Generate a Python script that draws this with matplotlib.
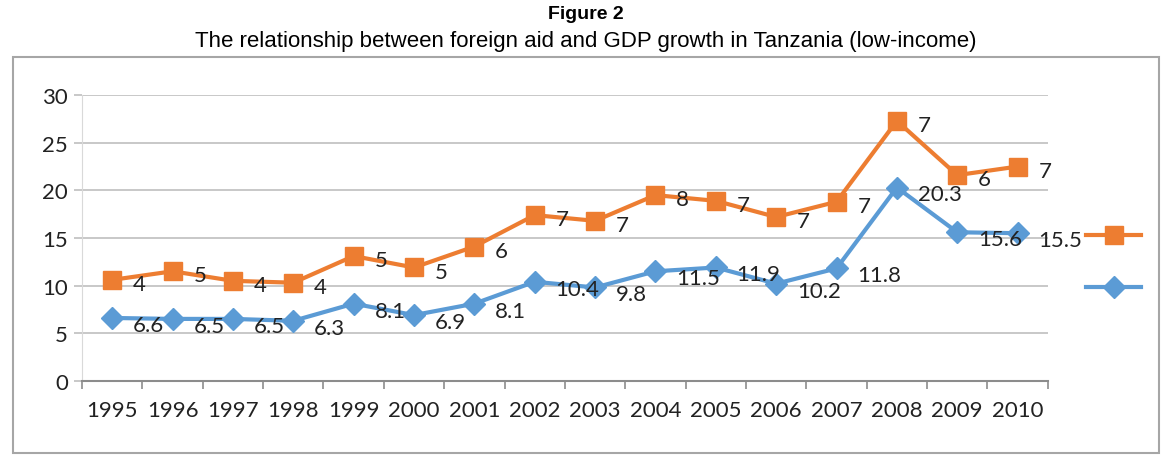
import matplotlib.pyplot as plt
from matplotlib.lines import Line2D
from matplotlib.patches import Rectangle

# Data (stacked line chart: orange line sits on top of the blue one)
years = ['1995', '1996', '1997', '1998', '1999', '2000', '2001', '2002',
         '2003', '2004', '2005', '2006', '2007', '2008', '2009', '2010']
gdp_growth = [6.6, 6.5, 6.5, 6.3, 8.1, 6.9, 8.1, 10.4, 9.8, 11.5, 11.9, 10.2, 11.8, 20.3, 15.6, 15.5]
foreign_aid = [4, 5, 4, 4, 5, 5, 6, 7, 7, 8, 7, 7, 7, 7, 6, 7]

blue = '#5B9BD5'
orange = '#ED7D31'
grid_grey = '#BFBFBF'
font = 'Lato'

stacked = [g + a for g, a in zip(gdp_growth, foreign_aid)]
x = list(range(len(years)))

fig = plt.figure(figsize=(11.72, 4.6), dpi=100)
ax = fig.add_axes([0.07, 0.17, 0.824, 0.621])

ax.plot(x, gdp_growth, color=blue, lw=3, marker='D', ms=11, zorder=3)
ax.plot(x, stacked, color=orange, lw=3, marker='s', ms=13, zorder=3)

# data labels to the right of each point
for xi, yi, v in zip(x, gdp_growth, gdp_growth):
    ax.annotate(f'{v:g}', (xi, yi), xytext=(15, -5), textcoords='offset points',
                ha='left', va='center', fontsize=16, family=font, color='#222222', zorder=4)
for xi, yi, v in zip(x, stacked, foreign_aid):
    ax.annotate(f'{v:g}', (xi, yi), xytext=(15, -3), textcoords='offset points',
                ha='left', va='center', fontsize=16, family=font, color='#222222', zorder=4)

ax.set_xlim(-0.5, len(years) - 0.5)
ax.set_ylim(0, 30)
ax.set_yticks([0, 5, 10, 15, 20, 25, 30])
ax.yaxis.grid(True, color=grid_grey, lw=1.2)
ax.set_axisbelow(True)

# category ticks between labels, labels centred on categories
ax.set_xticks([i - 0.5 for i in range(len(years) + 1)])
ax.set_xticklabels([])
ax.set_xticks(x, minor=True)
ax.set_xticklabels(years, minor=True)
ax.tick_params(axis='x', which='major', length=6, color='#8C8C8C', width=1.2)
ax.tick_params(axis='x', which='minor', length=0, pad=14)
ax.tick_params(axis='y', length=6, color=grid_grey, width=1.2, pad=4)
for lab in ax.get_xticklabels(minor=True) + ax.get_yticklabels():
    lab.set_fontfamily(font)
    lab.set_fontsize(16)
    lab.set_color('#222222')

for s in ['top', 'right']:
    ax.spines[s].set_visible(False)
ax.spines['left'].set_color('#D9D9D9')
ax.spines['bottom'].set_color('#8C8C8C')
ax.spines['bottom'].set_linewidth(1.5)

# legend without text
handles = [Line2D([], [], color=orange, lw=3, marker='s', ms=13),
           Line2D([], [], color=blue, lw=3, marker='D', ms=11)]
fig.legend(handles, ['', ''], loc='center left', bbox_to_anchor=(0.912, 0.427),
           frameon=False, handlelength=2.8, labelspacing=1.7, fontsize=14)

# titles
fig.text(0.5, 0.968, 'Figure 2', ha='center', va='center', fontsize=14,
         fontweight='bold', family='Liberation Sans')
fig.text(0.5, 0.91, 'The relationship between foreign aid and GDP growth in Tanzania (low-income)',
         ha='center', va='center', fontsize=16, family='Liberation Sans')

# chart border
fig.patches.append(Rectangle((0.011, 0.012), 0.978, 0.862, transform=fig.transFigure,
                             fill=False, edgecolor='#A6A6A6', lw=1.5))

fig.savefig('out.png', dpi=100)
